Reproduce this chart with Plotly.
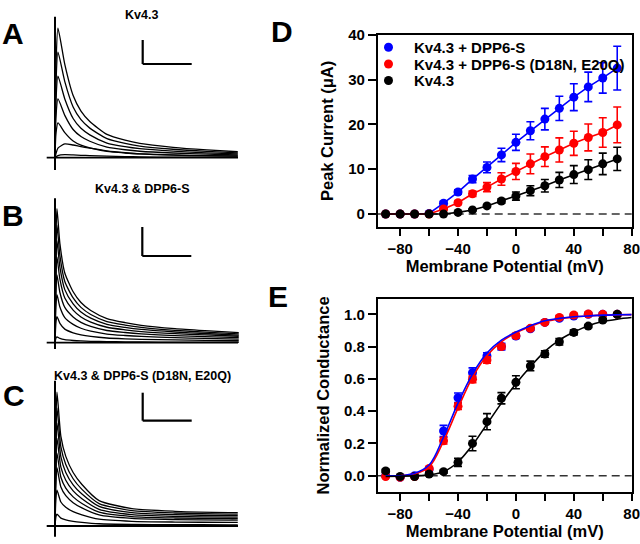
import plotly.graph_objects as go

FONT = "Liberation Sans, Arial, sans-serif"
W, H = 640, 544

# ---------------- Panel D: peak current vs voltage ----------------
volt = [-90, -80, -70, -60, -50, -40, -30, -20, -10, 0, 10, 20, 30, 40, 50, 60, 70]
peak_dpp6 = [0, 0, 0, 0.1, 2.4, 4.9, 7.8, 10.4, 13.2, 16.0, 18.6, 21.2, 23.6, 26.1, 28.4, 30.4, 32.6]
peak_dpp6_err = [0, 0, 0, 0, 0.4, 0.5, 0.8, 1.2, 1.5, 1.8, 2.0, 2.4, 2.7, 3.0, 3.3, 3.4, 4.9]
peak_mut = [0, 0, 0, 0, 1.1, 2.5, 4.5, 6.0, 7.8, 9.5, 11.2, 12.8, 14.3, 15.8, 17.1, 18.2, 19.9]
peak_mut_err = [0, 0, 0, 0, 0.2, 0.4, 0.6, 1.0, 1.4, 1.8, 2.2, 2.2, 2.7, 2.7, 3.0, 3.3, 4.0]
peak_kv = [0, 0, 0, 0, 0, 0.35, 0.9, 1.8, 2.9, 4.0, 5.2, 6.3, 7.6, 8.8, 9.9, 11.2, 12.3]
peak_kv_err = [0, 0, 0, 0, 0, 0.1, 0.2, 0.3, 0.5, 0.9, 1.1, 1.4, 1.7, 2.0, 2.2, 2.4, 2.6]
legend_names = ["Kv4.3 + DPP6-S", "Kv4.3 + DPP6-S (D18N, E20Q)", "Kv4.3"]

# ---------------- Panel E: normalized conductance ----------------
g_dpp6 = [0.0, -0.01, 0.0, 0.04, 0.277, 0.483, 0.638, 0.742, 0.80, 0.865, 0.91, 0.95, 0.975, 0.99, 1.0, 1.0, 1.0]
g_dpp6_err = [0, 0, 0, 0.01, 0.035, 0.03, 0.03, 0.02, 0.02, 0.015, 0.01, 0.01, 0.01, 0.01, 0.01, 0.01, 0.01]
g_mut = [-0.005, -0.01, -0.005, 0.045, 0.217, 0.43, 0.597, 0.717, 0.80, 0.868, 0.913, 0.95, 0.981, 0.996, 1.002, 1.0, 1.0]
g_mut_err = [0, 0, 0, 0.01, 0.02, 0.02, 0.02, 0.02, 0.015, 0.015, 0.01, 0.01, 0.01, 0.01, 0.01, 0.01, 0.01]
g_kv = [0.03, -0.005, -0.005, 0.01, 0.025, 0.083, 0.2, 0.335, 0.48, 0.579, 0.68, 0.754, 0.83, 0.888, 0.927, 0.965, 1.0]
g_kv_err = [0.01, 0, 0, 0.01, 0.01, 0.025, 0.045, 0.05, 0.035, 0.04, 0.03, 0.02, 0.02, 0.015, 0.01, 0.01, 0.01]

fit_v = [-90, -80, -70, -60, -50, -40, -30, -20, -10, 0, 10, 20, 30, 40, 50, 60, 70, 80]
fit_dpp6 = [0.0, 0.0, 0.015, 0.066, 0.24, 0.45, 0.63, 0.76, 0.84, 0.89, 0.93, 0.96, 0.975, 0.985, 0.99, 0.995, 0.997, 0.998]
fit_mut = [0.0, 0.0, 0.012, 0.055, 0.215, 0.42, 0.61, 0.745, 0.83, 0.885, 0.925, 0.955, 0.972, 0.983, 0.99, 0.995, 0.997, 0.998]
fit_kv = [-0.005, -0.003, 0.0, 0.006, 0.025, 0.085, 0.19, 0.32, 0.45, 0.57, 0.675, 0.77, 0.84, 0.89, 0.93, 0.955, 0.97, 0.98]

# ---------------- Panels A-C: current traces ----------------
trace_t_A = [0, 2, 6, 20, 37, 53, 71, 106, 143, 173, 241, 310, 373]
shape_A = [0, 0.7, 1.0, 0.72, 0.48, 0.36, 0.28, 0.18, 0.135, 0.11, 0.08, 0.06, 0.046]
shape_A_slow = [0, 0.3, 0.7, 1.0, 0.92, 0.8, 0.69, 0.5, 0.36, 0.27, 0.18, 0.14, 0.12]
peaks_A = [10.8, 8.8, 6.8, 4.9, 2.9, 1.15, 0.25]

trace_t_B = [0, 2, 4, 10, 20, 37, 53, 73, 106, 143, 176, 245, 306, 375]
shape_B = [0, 0.8, 1.0, 0.74, 0.52, 0.38, 0.3, 0.24, 0.18, 0.15, 0.13, 0.105, 0.09, 0.075]
peaks_B = [23.1, 20.3, 17.6, 14.8, 11.7, 8.3, 4.5, 1.0]

trace_t_C = [0, 2, 4, 12, 22, 37, 55, 90, 157, 245, 355, 373]
shape_C = [0, 0.8, 1.0, 0.67, 0.52, 0.4, 0.31, 0.19, 0.13, 0.11, 0.1, 0.1]
peaks_C = [23.9, 21.1, 18.4, 15.7, 13.0, 10.4, 6.4, 2.1]

scale_t = 100        # ms
scale_i = [2, 5, 5]  # uA
titles_ABC = ["Kv4.3", "Kv4.3 & DPP6-S", "Kv4.3 & DPP6-S (D18N, E20Q)"]

BLUE, RED, BLACK = "#0000FF", "#FF0000", "#000000"

fig = go.Figure()

def px_x(x):
    return x / W

def px_y(y):
    return 1 - y / H

ms_per_px = 100 / 49.0
axis_px_x = 55
left_px, right_px = 40, 280
trange = [(left_px - axis_px_x) * ms_per_px, (right_px - axis_px_x) * ms_per_px]

# (top px, bottom px, baseline px, px per uA)
panel_geo = [(10, 178, 157.7, 12.0), (190, 356, 342.7, 5.8), (370, 540, 526.0, 5.6)]
scalebar_corner_px = [(142.7, 64.0), (142.3, 256.0), (142.7, 420.7)]
axis_top_px = [16.7, 198.3, 380.7]
axis_bot_px = [170.0, 349.0, 536.7]

shapes = []
annotations = []

for k, (tp, bp, base, ppu) in enumerate(panel_geo):
    xa = "x" if k == 0 else f"x{k+1}"
    ya = "y" if k == 0 else f"y{k+1}"
    lname = "" if k == 0 else str(k + 1)
    fig.layout[f"xaxis{lname}"] = dict(domain=[px_x(left_px), px_x(right_px)], range=trange,
                                       visible=False, anchor=ya, fixedrange=True)
    fig.layout[f"yaxis{lname}"] = dict(domain=[px_y(bp), px_y(tp)],
                                       range=[(base - bp) / ppu, (base - tp) / ppu],
                                       visible=False, anchor=xa, fixedrange=True)
    if k == 0:
        groups = [(trace_t_A, shape_A, peaks_A[:5]), (trace_t_A, shape_A_slow, peaks_A[5:])]
    elif k == 1:
        groups = [(trace_t_B, shape_B, peaks_B)]
    else:
        groups = [(trace_t_C, shape_C, peaks_C)]
    for tt, shp, pks in groups:
        for p in pks:
            fig.add_trace(go.Scatter(x=tt, y=[p * s for s in shp], mode="lines",
                                     line=dict(color="black", width=1.3, shape="spline", smoothing=0.6),
                                     xaxis=xa, yaxis=ya, showlegend=False, hoverinfo="skip"))
    shapes.append(dict(type="line", xref=xa, yref=ya, x0=0, x1=0,
                       y0=(base - axis_bot_px[k]) / ppu, y1=(base - axis_top_px[k]) / ppu,
                       line=dict(color="black", width=2)))
    shapes.append(dict(type="line", xref=xa, yref=ya, x0=(46.7 - axis_px_x) * ms_per_px,
                       x1=(238 - axis_px_x) * ms_per_px, y0=0, y1=0,
                       line=dict(color="black", width=1.8)))
    cx, cy = scalebar_corner_px[k]
    t0 = (cx - axis_px_x) * ms_per_px
    i0 = (base - cy) / ppu
    shapes.append(dict(type="line", xref=xa, yref=ya, x0=t0, x1=t0, y0=i0, y1=i0 + scale_i[k],
                       line=dict(color="black", width=2.2)))
    shapes.append(dict(type="line", xref=xa, yref=ya, x0=t0, x1=t0 + scale_t, y0=i0, y1=i0,
                       line=dict(color="black", width=2.2)))

title_pos = [(141, 15), (142, 189), (142, 376)]
for (x, y), txt in zip(title_pos, titles_ABC):
    annotations.append(dict(x=px_x(x), y=px_y(y), xref="paper", yref="paper", text=txt,
                            showarrow=False, xanchor="center", yanchor="middle",
                            font=dict(family=FONT, size=12.5, color="black", weight="bold")))

letters = [("A", 13, 33), ("B", 13, 215), ("C", 14, 395), ("D", 282, 31), ("E", 278, 296)]
for txt, x, y in letters:
    annotations.append(dict(x=px_x(x), y=px_y(y), xref="paper", yref="paper", text=txt,
                            showarrow=False, xanchor="center", yanchor="middle",
                            font=dict(family=FONT, size=30, color="black", weight="bold")))

# ---------------- Panel D traces ----------------
series_D = [(peak_dpp6, peak_dpp6_err, BLUE), (peak_mut, peak_mut_err, RED), (peak_kv, peak_kv_err, BLACK)]
for name, (y, e, c) in zip(legend_names, series_D):
    fig.add_trace(go.Scatter(x=volt, y=y, mode="lines+markers", name=name,
                             line=dict(color=c, width=1.6),
                             marker=dict(color=c, size=9),
                             error_y=dict(type="data", array=e, color=c, thickness=1.6, width=4),
                             xaxis="x4", yaxis="y4", showlegend=False))

# hand-placed legend (marker + label) in paper space
legend_rows_px = [47.3, 64.0, 80.5]
for name, (y, e, c), ry in zip(legend_names, series_D, legend_rows_px):
    shapes.append(dict(type="circle", xref="paper", yref="paper",
                       x0=px_x(388.5 - 4.5), x1=px_x(388.5 + 4.5),
                       y0=px_y(ry + 4.5), y1=px_y(ry - 4.5),
                       fillcolor=c, line=dict(color=c, width=0)))
    annotations.append(dict(x=px_x(412), y=px_y(ry), xref="paper", yref="paper", text=name,
                            showarrow=False, xanchor="left", yanchor="middle",
                            font=dict(family=FONT, size=15, color="black", weight="bold")))

# ---------------- Panel E traces ----------------
series_E = [(g_dpp6, g_dpp6_err, BLUE), (g_mut, g_mut_err, RED), (g_kv, g_kv_err, BLACK)]
for y, e, c in series_E:
    fig.add_trace(go.Scatter(x=volt, y=y, mode="markers",
                             marker=dict(color=c, size=9),
                             error_y=dict(type="data", array=e, color=c, thickness=1.6, width=4),
                             xaxis="x5", yaxis="y5", showlegend=False))
for y, c in [(fit_mut, RED), (fit_dpp6, BLUE), (fit_kv, BLACK)]:
    fig.add_trace(go.Scatter(x=fit_v, y=y, mode="lines",
                             line=dict(color=c, width=1.6, shape="spline", smoothing=1.0),
                             xaxis="x5", yaxis="y5", showlegend=False))

for xa, ya in [("x4", "y4"), ("x5", "y5")]:
    shapes.append(dict(type="line", xref=f"{xa} domain", yref=ya, x0=0, x1=1, y0=0, y1=0,
                       line=dict(color="#333333", width=1.5, dash="8px,5px"), layer="below"))

tickfont = dict(family=FONT, size=15, color="black", weight="bold")
titlefont = dict(family=FONT, size=16.5, color="black", weight="bold")

def xax(anchor, domain):
    return dict(domain=domain, range=[-95.5, 80], anchor=anchor,
                tickvals=[-80, -40, 0, 40, 80], ticks="outside", ticklen=8, tickwidth=1.5,
                tickcolor="black", showline=True, linecolor="black", linewidth=1.5, mirror=True,
                showgrid=False, zeroline=False, tickfont=tickfont, ticklabeloverflow="allow",
                minor=dict(dtick=20, tick0=0, ticks="outside", ticklen=8, tickwidth=1.5,
                           tickcolor="black", showgrid=False),
                title=dict(text="Membrane Potential (mV)", font=titlefont, standoff=4),
                automargin=False, fixedrange=True)

xdom = [px_x(377.7), px_x(631.7)]
fig.layout.xaxis4 = xax("y4", xdom)
fig.layout.xaxis5 = xax("y5", xdom)
fig.layout.yaxis4 = dict(domain=[px_y(226.7), px_y(35)], range=[-2.85, 40], anchor="x4",
                         tickvals=[0, 10, 20, 30, 40], ticks="outside", ticklen=8, tickwidth=1.5,
                         tickcolor="black", showline=True, linecolor="black", linewidth=1.5,
                         mirror=True, showgrid=False, zeroline=False, tickfont=tickfont,
                         title=dict(text="Peak Current (μA)", font=titlefont, standoff=10),
                         automargin=False, fixedrange=True)
fig.layout.yaxis5 = dict(domain=[px_y(491.7), px_y(299)], range=[-0.099, 1.095], anchor="x5",
                         tickvals=[0, 0.2, 0.4, 0.6, 0.8, 1.0], tickformat=".1f",
                         ticks="outside", ticklen=8, tickwidth=1.5,
                         tickcolor="black", showline=True, linecolor="black", linewidth=1.5,
                         mirror=True, showgrid=False, zeroline=False, tickfont=tickfont,
                         title=dict(text="Normalized Conductance", font=titlefont, standoff=10),
                         automargin=False, fixedrange=True)

fig.update_layout(
    width=W, height=H, margin=dict(l=0, r=0, t=0, b=0),
    paper_bgcolor="white", plot_bgcolor="white",
    font=dict(family=FONT, color="black"),
    shapes=shapes, annotations=annotations, showlegend=False,
)

fig.write_html("out.html", config={"displayModeBar": False},
               post_script="document.body.style.margin='0px';document.body.style.overflow='hidden';")
